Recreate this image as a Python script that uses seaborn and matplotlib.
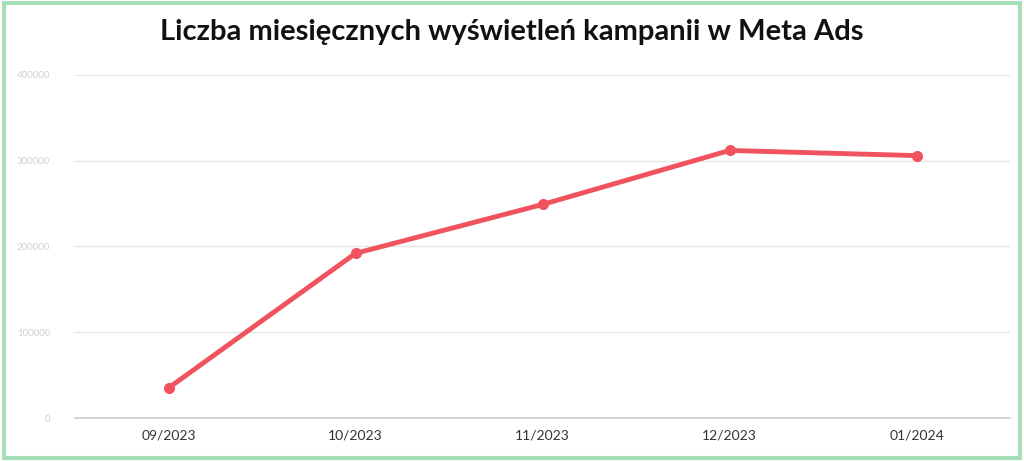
import matplotlib
matplotlib.use("Agg")
import matplotlib.pyplot as plt
import seaborn as sns
import pandas as pd
from matplotlib.patches import Rectangle

months = ["09/2023", "10/2023", "11/2023", "12/2023", "01/2024"]
impressions = [35000, 192000, 249000, 312000, 306000]
yticks = [0, 100000, 200000, 300000, 400000]

sns.set_theme(style="white")
plt.rcParams['font.family'] = ['Lato', 'DejaVu Sans']

fig = plt.figure(figsize=(10.24, 4.61), dpi=100)
ax = fig.add_axes([75/1024, 1-418/461, 935/1024, 343/461])
df = pd.DataFrame({"m": months, "v": impressions})
sns.lineplot(data=df, x="m", y="v", ax=ax, color="#f0525e", linewidth=3.5,
             marker="o", markersize=8, markeredgewidth=0, sort=False)
ax.set_xlim(-0.5, 4.5)
ax.set_ylim(0, 400000)
ax.set_yticks(yticks)
ax.set_yticklabels([f"{t}" for t in yticks], color="#d0d0d0", fontsize=7)
ax.grid(axis="y", color="#e6e6e6", linewidth=1)
for s in ["top", "right", "left"]:
    ax.spines[s].set_visible(False)
ax.spines["bottom"].set_color("#cccccc")
ax.tick_params(axis="x", labelsize=10, colors="#333333", length=0, pad=8)
ax.tick_params(axis="y", length=0, pad=18)
ax.set_xlabel("")
ax.set_ylabel("")
fig.text(0.5, 1-32/461, "Liczba miesięcznych wyświetleń kampanii w Meta Ads",
         ha="center", va="center", fontsize=21, fontweight="bold", color="#111111")
fig.patches.append(Rectangle((0.004, 0.006), 0.992, 0.988, transform=fig.transFigure,
                             fill=False, edgecolor="#a6dfb5", linewidth=3))
fig.savefig("out.png", dpi=100)
